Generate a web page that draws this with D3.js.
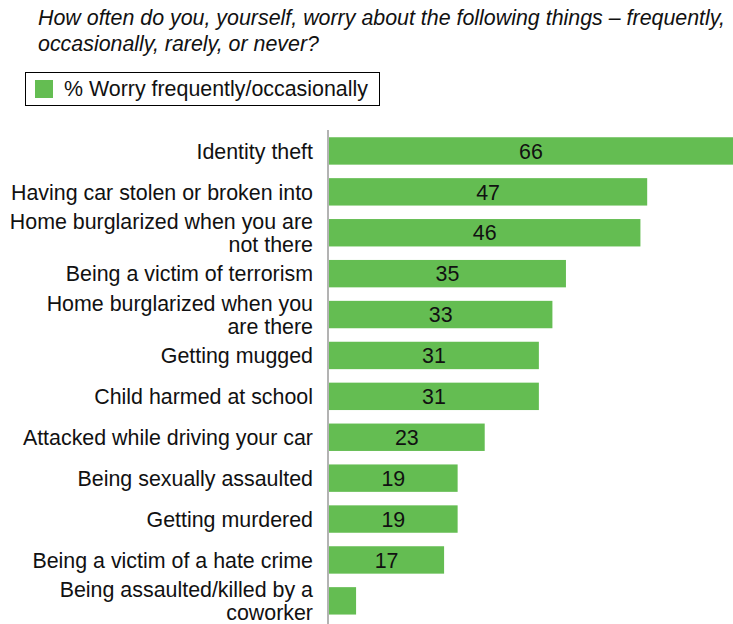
<!DOCTYPE html>
<html>
<head>
<meta charset="utf-8">
<script src="https://cdn.jsdelivr.net/npm/d3@7"></script>
<style>
  body { margin: 0; background: #fff; }
  svg { display: block; font-family: "Liberation Sans", Arial, sans-serif; }
</style>
</head>
<body>
<div id="chart"></div>
<script>
const categories = [
  ["Identity theft"],
  ["Having car stolen or broken into"],
  ["Home burglarized when you are", "not there"],
  ["Being a victim of terrorism"],
  ["Home burglarized when you", "are there"],
  ["Getting mugged"],
  ["Child harmed at school"],
  ["Attacked while driving your car"],
  ["Being sexually assaulted"],
  ["Getting murdered"],
  ["Being a victim of a hate crime"],
  ["Being assaulted/killed by a", "coworker"]
]
const values = [66, 47, 46, 35, 33, 31, 31, 23, 19, 19, 17, 4]
const showLabel = [true, true, true, true, true, true, true, true, true, true, true, false]
const titleLines = [
  "How often do you, yourself, worry about the following things \u2013 frequently,",
  "occasionally, rarely, or never?"
]
const legendText = "% Worry frequently/occasionally"

const width = 733, height = 624
const green = "#64bd52"
const fs = 21.4

const svg = d3.select("#chart").append("svg")
  .attr("width", width)
  .attr("height", height)

// title
svg.append("g").selectAll("text")
  .data(titleLines)
  .join("text")
  .attr("x", 38)
  .attr("y", (d, i) => 25 + i * 26)
  .attr("font-size", fs)
  .attr("font-style", "italic")
  .attr("fill", "#111")
  .text(d => d)

// legend
const lg = svg.append("g")
lg.append("rect")
  .attr("x", 25.5).attr("y", 72.5)
  .attr("width", 354).attr("height", 33)
  .attr("fill", "none").attr("stroke", "#000").attr("stroke-width", 1)
lg.append("rect")
  .attr("x", 35).attr("y", 80)
  .attr("width", 18).attr("height", 18)
  .attr("fill", green)
lg.append("text")
  .attr("x", 64).attr("y", 96)
  .attr("font-size", fs)
  .attr("fill", "#111")
  .text(legendText)

const x = d3.scaleLinear()
  .domain([0, 60])
  .range([329, 329 + 60 * 6.77])

const y = d3.scaleBand()
  .domain(d3.range(values.length))
  .range([130.5, 130.5 + 40.9 * values.length])
  .paddingInner(0.33)
  .paddingOuter(0.165)

// bars
svg.append("g").selectAll("rect")
  .data(values)
  .join("rect")
  .attr("x", x(0))
  .attr("y", (d, i) => y(i))
  .attr("width", d => x(d) - x(0))
  .attr("height", y.bandwidth())
  .attr("fill", green)

// value labels
svg.append("g").selectAll("text")
  .data(values)
  .join("text")
  .filter((d, i) => showLabel[i])
  .attr("x", d => (x(0) + Math.min(x(d), width)) / 2)
  .attr("y", (d, i) => y(i) + y.bandwidth() / 2)
  .attr("dy", "0.36em")
  .attr("text-anchor", "middle")
  .attr("font-size", fs)
  .attr("fill", "#111")
  .text(d => d)

// category labels
const cat = svg.append("g").selectAll("text")
  .data(categories)
  .join("text")
  .attr("text-anchor", "end")
  .attr("font-size", fs)
  .attr("fill", "#111")
  .attr("y", (d, i) => y(i) + y.bandwidth() / 2)

cat.selectAll("tspan")
  .data(d => d.map((t, j) => ({ t, j, n: d.length })))
  .join("tspan")
  .attr("x", 313)
  .attr("dy", (d) => d.j === 0 ? (0.36 - (d.n - 1) * 0.54) + "em" : "1.08em")
  .text(d => d.t)

// axis line
svg.append("line")
  .attr("x1", 328).attr("x2", 328)
  .attr("y1", 130).attr("y2", height)
  .attr("stroke", "#b3b3b3")
  .attr("stroke-width", 2)
</script>
</body>
</html>
